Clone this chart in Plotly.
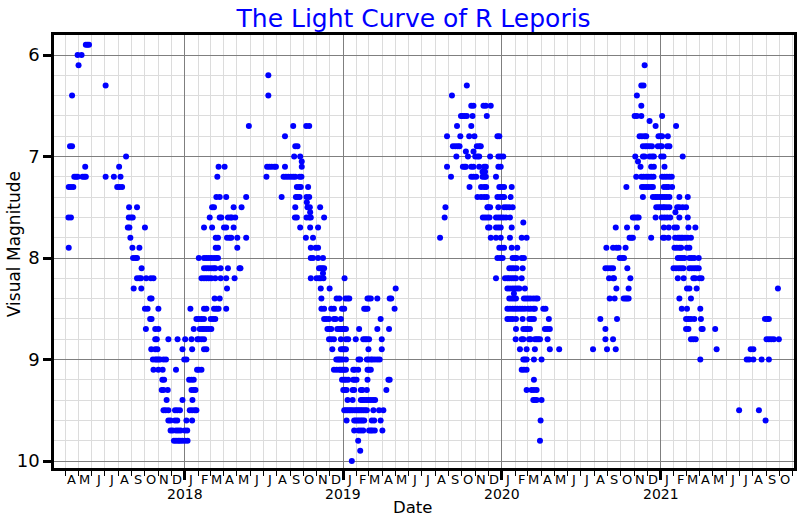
import datetime as dt
import plotly.graph_objects as go

# Observations: each row = [visual magnitude, decimal-year dates ...]
obs_2017 = [
    [5.9, 2017.375, 2017.385, 2017.395],
    [6.0, 2017.323, 2017.348],
    [6.1, 2017.329],
    [6.3, 2017.500],
    [6.4, 2017.288],
    [6.9, 2017.275, 2017.288],
    [7.0, 2017.629],
    [7.1, 2017.371, 2017.585],
    [7.2, 2017.302, 2017.313, 2017.323, 2017.354, 2017.365, 2017.375, 2017.500, 2017.552, 2017.594],
    [7.3, 2017.267, 2017.281, 2017.296, 2017.573, 2017.588, 2017.604],
    [7.5, 2017.648, 2017.698],
    [7.6, 2017.265, 2017.281, 2017.646, 2017.660, 2017.671],
    [7.7, 2017.640, 2017.650, 2017.748],
    [7.8, 2017.656],
    [7.9, 2017.267, 2017.669, 2017.713],
    [8.0, 2017.673, 2017.688, 2017.698],
    [8.1, 2017.727],
    [8.2, 2017.698, 2017.713, 2017.723, 2017.756, 2017.785, 2017.802],
    [8.3, 2017.677, 2017.725],
    [8.4, 2017.781, 2017.790],
    [8.5, 2017.748, 2017.765, 2017.833],
    [8.6, 2017.781, 2017.790],
    [8.7, 2017.754, 2017.813, 2017.833],
    [8.8, 2017.813, 2017.823, 2017.896, 2017.954, 2018.002],
    [8.9, 2017.788, 2017.813, 2017.827, 2017.985],
    [9.0, 2017.798, 2017.813, 2017.823, 2017.833, 2017.844, 2017.865, 2017.881, 2017.996, 2018.010],
    [9.1, 2017.802, 2017.833, 2017.860, 2017.944],
    [9.2, 2017.858, 2017.869],
    [9.3, 2017.854, 2017.865, 2017.892],
    [9.4, 2017.885, 2017.985],
    [9.5, 2017.865, 2017.879, 2017.896, 2017.938, 2017.952, 2017.969],
    [9.6, 2017.896, 2017.910, 2017.938, 2017.952, 2018.010],
    [9.7, 2017.910, 2017.923, 2017.944, 2017.958, 2017.973, 2018.000, 2018.015],
    [9.8, 2017.931, 2017.944, 2017.958, 2017.969, 2017.983, 2018.000, 2018.017],
]

obs_2018_rise = [
    [6.7, 2018.404],
    [7.1, 2018.213, 2018.251],
    [7.2, 2018.205],
    [7.4, 2018.199, 2018.220, 2018.261, 2018.387],
    [7.5, 2018.172, 2018.184, 2018.308, 2018.358],
    [7.6, 2018.157, 2018.220, 2018.230, 2018.272, 2018.287, 2018.297, 2018.318],
    [7.7, 2018.121, 2018.172, 2018.247, 2018.261, 2018.308],
    [7.8, 2018.195, 2018.209, 2018.266, 2018.282, 2018.293, 2018.331, 2018.387],
    [7.9, 2018.195, 2018.209, 2018.331],
    [8.0, 2018.088, 2018.121, 2018.136, 2018.151, 2018.167, 2018.184, 2018.199, 2018.209],
    [8.1, 2018.121, 2018.136, 2018.151, 2018.167, 2018.182, 2018.192, 2018.226, 2018.272, 2018.345, 2018.351],
    [8.2, 2018.105, 2018.121, 2018.136, 2018.151, 2018.167, 2018.192, 2018.226, 2018.261, 2018.314],
    [8.3, 2018.266],
    [8.4, 2018.188, 2018.220],
    [8.5, 2018.035, 2018.121, 2018.136, 2018.184, 2018.199, 2018.213, 2018.261],
    [8.6, 2018.073, 2018.088, 2018.105, 2018.121, 2018.163, 2018.178, 2018.192],
    [8.7, 2018.056, 2018.094, 2018.109, 2018.121, 2018.136, 2018.151, 2018.167],
    [8.8, 2018.042, 2018.079, 2018.088, 2018.105, 2018.121],
    [8.9, 2018.046, 2018.121, 2018.136],
    [9.1, 2018.077, 2018.088, 2018.105],
    [9.2, 2018.027, 2018.042, 2018.056],
    [9.3, 2018.042, 2018.056, 2018.067],
    [9.4, 2018.048],
    [9.5, 2018.031, 2018.046, 2018.063, 2018.073],
    [9.6, 2018.046],
]

obs_2018_fall = [
    [6.2, 2018.527],
    [6.4, 2018.527],
    [6.7, 2018.684, 2018.766, 2018.785],
    [6.8, 2018.632],
    [6.9, 2018.697, 2018.711],
    [7.0, 2018.690, 2018.728],
    [7.05, 2018.738],
    [7.1, 2018.519, 2018.533, 2018.548, 2018.565, 2018.575, 2018.632, 2018.738],
    [7.2, 2018.515, 2018.623, 2018.638, 2018.653, 2018.669, 2018.684, 2018.697, 2018.724, 2018.736],
    [7.3, 2018.707, 2018.722, 2018.732, 2018.778],
    [7.4, 2018.611, 2018.701, 2018.711, 2018.724, 2018.768, 2018.785],
    [7.45, 2018.770],
    [7.5, 2018.697, 2018.774, 2018.789, 2018.854],
    [7.55, 2018.791],
    [7.6, 2018.695, 2018.707, 2018.768, 2018.785, 2018.795, 2018.879],
    [7.7, 2018.728, 2018.791, 2018.841],
    [7.8, 2018.764, 2018.809],
    [7.9, 2018.795, 2018.826, 2018.841],
    [8.0, 2018.795, 2018.809, 2018.841, 2018.872],
    [8.1, 2018.847, 2018.858, 2018.868, 2018.879],
    [8.15, 2018.872],
    [8.2, 2018.795, 2018.831, 2018.847, 2018.858, 2018.875],
    [8.3, 2018.858, 2018.914],
    [8.4, 2018.862, 2018.958],
    [8.5, 2018.862, 2018.879, 2018.924, 2018.941],
    [8.6, 2018.879, 2018.893, 2018.910, 2018.941, 2018.952],
    [8.7, 2018.900, 2018.914, 2018.924, 2018.962],
    [8.8, 2018.910, 2018.924, 2018.941],
    [8.9, 2018.931],
    [9.0, 2018.956, 2018.967],
    [9.1, 2018.941, 2018.958],
]

obs_2019_min = [
    [8.2, 2019.008],
    [8.3, 2019.331],
    [8.4, 2018.975, 2019.013, 2019.027, 2019.038, 2019.153, 2019.163, 2019.174, 2019.215, 2019.293, 2019.303],
    [8.5, 2018.992, 2019.006, 2019.132, 2019.142, 2019.153, 2019.324],
    [8.6, 2018.985, 2019.236],
    [8.7, 2018.975, 2018.985, 2018.996, 2019.006, 2019.017, 2019.100, 2019.215, 2019.289],
    [8.8, 2018.985, 2019.017, 2019.031, 2019.079, 2019.126, 2019.138, 2019.149, 2019.163, 2019.243],
    [8.9, 2018.985, 2018.996, 2019.006, 2019.017, 2019.159, 2019.243],
    [9.0, 2018.975, 2018.985, 2018.996, 2019.017, 2019.096, 2019.107, 2019.149, 2019.159, 2019.174,
     2019.184, 2019.199, 2019.215, 2019.230],
    [9.1, 2018.975, 2018.985, 2018.996, 2019.006, 2019.017, 2019.063, 2019.073, 2019.094, 2019.153,
     2019.163, 2019.174],
    [9.2, 2018.992, 2019.006, 2019.017, 2019.031, 2019.063, 2019.073, 2019.084, 2019.153, 2019.285, 2019.293],
    [9.3, 2019.000, 2019.010, 2019.021, 2019.059, 2019.069, 2019.111, 2019.121, 2019.149, 2019.272],
    [9.4, 2019.027, 2019.059, 2019.111, 2019.121, 2019.132, 2019.146, 2019.159, 2019.174, 2019.188, 2019.201],
    [9.5, 2019.006, 2019.017, 2019.027, 2019.038, 2019.048, 2019.059, 2019.073, 2019.084, 2019.094,
     2019.105, 2019.115, 2019.126, 2019.138, 2019.149, 2019.190, 2019.226, 2019.253],
    [9.6, 2019.021, 2019.069, 2019.079, 2019.090, 2019.100, 2019.111, 2019.121, 2019.132, 2019.180,
     2019.195, 2019.236],
    [9.7, 2019.069, 2019.096, 2019.111, 2019.126, 2019.163, 2019.174, 2019.184, 2019.199, 2019.247],
    [9.8, 2019.094],
    [9.9, 2019.107],
    [10.0, 2019.054],
]

obs_2019_max = [
    [6.3, 2019.780],
    [6.4, 2019.686],
    [6.5, 2019.808, 2019.822, 2019.885, 2019.900, 2019.931],
    [6.6, 2019.743, 2019.753, 2019.766, 2019.780, 2019.816, 2019.906],
    [6.7, 2019.718, 2019.808],
    [6.8, 2019.655, 2019.739, 2019.795, 2019.828, 2019.973, 2019.985],
    [6.9, 2019.692, 2019.707, 2019.722, 2019.734, 2019.843, 2019.858, 2019.868],
    [6.95, 2019.774, 2019.822],
    [7.0, 2019.714, 2019.787, 2019.833, 2019.847, 2019.858, 2019.927, 2019.979, 2019.994, 2020.010],
    [7.1, 2019.655, 2019.755, 2019.766, 2019.774, 2019.808, 2019.822, 2019.858, 2019.889, 2019.900,
     2019.979, 2019.994],
    [7.15, 2019.879, 2019.895],
    [7.2, 2019.680, 2019.808, 2019.822, 2019.839, 2019.879, 2019.891, 2019.900, 2019.964],
    [7.3, 2019.797, 2019.870, 2019.889, 2019.902, 2019.985, 2020.000, 2020.015, 2020.063],
    [7.4, 2019.847, 2019.870, 2019.889, 2019.906, 2019.973, 2019.990, 2020.006, 2020.015, 2020.056],
    [7.5, 2019.645, 2019.910, 2019.916, 2019.927, 2019.979, 2020.015, 2020.031, 2020.048, 2020.069],
    [7.6, 2019.640, 2019.881, 2019.895, 2019.910, 2019.923, 2019.964, 2019.979, 2019.994, 2020.010,
     2020.027, 2020.052],
    [7.65, 2020.136],
    [7.7, 2019.914, 2019.923, 2019.964, 2019.979, 2019.994, 2020.063],
    [7.8, 2019.611, 2019.931, 2019.964, 2019.994, 2020.052, 2020.126, 2020.157],
]

obs_2020_fall = [
    [7.9, 2019.985, 2020.000, 2020.015, 2020.063, 2020.098],
    [8.0, 2019.973, 2019.990, 2020.006, 2020.069, 2020.084, 2020.094, 2020.126, 2020.140],
    [8.1, 2020.048, 2020.063, 2020.077, 2020.094, 2020.132],
    [8.2, 2019.964, 2020.021, 2020.036, 2020.048, 2020.063, 2020.077, 2020.090, 2020.126],
    [8.3, 2020.036, 2020.052, 2020.069, 2020.084, 2020.098, 2020.111, 2020.146],
    [8.35, 2020.077],
    [8.4, 2020.048, 2020.063, 2020.077, 2020.090, 2020.140, 2020.153, 2020.167, 2020.182, 2020.199,
     2020.215, 2020.226],
    [8.5, 2020.036, 2020.052, 2020.069, 2020.084, 2020.098, 2020.115, 2020.130, 2020.146, 2020.167,
     2020.182, 2020.199, 2020.209, 2020.262, 2020.276],
    [8.6, 2020.036, 2020.052, 2020.069, 2020.090, 2020.132, 2020.174, 2020.188, 2020.203, 2020.297],
    [8.7, 2020.090, 2020.136, 2020.151, 2020.163, 2020.178, 2020.272, 2020.287, 2020.303],
    [8.8, 2020.088, 2020.126, 2020.136, 2020.172, 2020.182, 2020.209, 2020.220, 2020.230, 2020.241, 2020.289],
    [8.9, 2020.115, 2020.157, 2020.209, 2020.303, 2020.362],
    [9.0, 2020.136, 2020.146, 2020.157, 2020.203, 2020.251],
    [9.1, 2020.126, 2020.140, 2020.157],
    [9.2, 2020.203],
    [9.3, 2020.157, 2020.188, 2020.203, 2020.220],
    [9.4, 2020.199, 2020.209, 2020.220, 2020.251],
    [9.6, 2020.245],
    [9.8, 2020.241],
]

obs_2020_rise = [
    [6.1, 2020.900],
    [6.3, 2020.879, 2020.893],
    [6.4, 2020.851],
    [6.5, 2020.879],
    [6.6, 2020.837, 2020.851, 2020.879],
    [6.65, 2020.931],
    [6.7, 2020.969],
    [6.8, 2020.868, 2020.883, 2020.900, 2020.910, 2020.987],
    [6.9, 2020.889, 2020.904, 2020.916, 2020.931, 2020.946, 2020.983, 2020.998],
    [7.0, 2020.841, 2020.889, 2020.900, 2020.931, 2020.946, 2020.958],
    [7.05, 2020.858],
    [7.1, 2020.874, 2020.941, 2020.958],
    [7.2, 2020.847, 2020.879, 2020.893, 2020.910, 2020.925, 2020.941, 2020.956],
    [7.3, 2020.785, 2020.883, 2020.895, 2020.910, 2020.925, 2020.941, 2020.952],
    [7.4, 2020.889, 2020.952, 2020.967, 2020.979, 2020.994],
    [7.5, 2020.973, 2020.987],
    [7.6, 2020.826, 2020.837, 2020.851, 2020.862, 2020.969],
    [7.7, 2020.718, 2020.789, 2020.851],
    [7.8, 2020.805, 2020.816, 2020.826, 2020.941],
    [7.9, 2020.659, 2020.701, 2020.722, 2020.736, 2020.780],
    [8.0, 2020.743, 2020.759, 2020.770],
    [8.1, 2020.653, 2020.669, 2020.686, 2020.701, 2020.791],
    [8.2, 2020.676, 2020.701, 2020.707, 2020.810],
    [8.3, 2020.722, 2020.799],
    [8.4, 2020.680, 2020.711, 2020.768, 2020.780, 2020.789, 2020.799],
    [8.6, 2020.621, 2020.726],
    [8.7, 2020.653],
    [8.8, 2020.653, 2020.701],
    [8.9, 2020.575, 2020.663, 2020.718],
]

obs_2021 = [
    [6.6, 2021.010],
    [6.7, 2021.098],
    [6.8, 2021.000, 2021.010, 2021.046],
    [6.9, 2021.008, 2021.042, 2021.056],
    [7.0, 2021.004, 2021.019, 2021.140],
    [7.1, 2021.025],
    [7.2, 2021.010, 2021.025, 2021.040, 2021.056, 2021.071],
    [7.3, 2021.021, 2021.036, 2021.050, 2021.073],
    [7.4, 2021.010, 2021.025, 2021.040, 2021.056, 2021.119, 2021.172],
    [7.5, 2021.000, 2021.015, 2021.025, 2021.040, 2021.056, 2021.105, 2021.119, 2021.140, 2021.161],
    [7.55, 2021.094],
    [7.6, 2021.008, 2021.025, 2021.042, 2021.061, 2021.119, 2021.172],
    [7.7, 2021.021, 2021.052, 2021.088, 2021.103, 2021.176, 2021.220],
    [7.8, 2021.015, 2021.025, 2021.050, 2021.092, 2021.109, 2021.119, 2021.130, 2021.140, 2021.155,
     2021.172, 2021.192],
    [7.9, 2021.088, 2021.103, 2021.119, 2021.130, 2021.167, 2021.182],
    [8.0, 2021.109, 2021.123, 2021.136, 2021.151, 2021.182, 2021.197, 2021.213, 2021.241],
    [8.1, 2021.082, 2021.098, 2021.115, 2021.130, 2021.144, 2021.182, 2021.197, 2021.213, 2021.228, 2021.241],
    [8.2, 2021.109, 2021.146, 2021.207, 2021.218, 2021.245, 2021.259],
    [8.3, 2021.167, 2021.182, 2021.228, 2021.741],
    [8.4, 2021.119, 2021.192],
    [8.5, 2021.134, 2021.167, 2021.251],
    [8.6, 2021.161, 2021.176, 2021.192, 2021.213, 2021.255, 2021.659, 2021.674, 2021.684],
    [8.7, 2021.161, 2021.176, 2021.259, 2021.266, 2021.345],
    [8.8, 2021.192, 2021.207, 2021.222, 2021.669, 2021.684, 2021.699, 2021.715, 2021.747],
    [8.9, 2021.354, 2021.569, 2021.586],
    [9.0, 2021.251, 2021.544, 2021.559, 2021.586, 2021.638, 2021.684],
    [9.5, 2021.496, 2021.621],
    [9.6, 2021.663],
]

month_letters = ["J", "F", "M", "A", "M", "J", "J", "A", "S", "O", "N", "D"]
year_labels = [2018, 2019, 2020, 2021]
x_start, x_end = 2017.174, 2021.8425
y_top, y_bottom = 5.803, 10.069


def to_date(y):
    yr = int(y)
    start = dt.datetime(yr, 1, 1)
    end = dt.datetime(yr + 1, 1, 1)
    return start + (end - start) * (y - yr)


dates, mags = [], []
for block in [obs_2017, obs_2018_rise, obs_2018_fall, obs_2019_min, obs_2019_max,
              obs_2020_fall, obs_2020_rise, obs_2021]:
    for row in block:
        for t in row[1:]:
            dates.append(to_date(t))
            mags.append(row[0])

FONT = "DejaVu Sans"
fig = go.Figure()
fig.add_trace(go.Scatter(x=dates, y=mags, mode="markers",
                         marker=dict(color="#0000ff", size=6, line=dict(width=0)),
                         hoverinfo="skip", showlegend=False))

annotations = []
# month letters at mid-month
y, m = 2017, 4
while (y, m) <= (2021, 10):
    annotations.append(dict(x=dt.datetime(y, m, 15), y=0, xref="x", yref="paper",
                            text=month_letters[m - 1], showarrow=False, yanchor="top",
                            yshift=-2, font=dict(family=FONT, size=13, color="black")))
    m += 1
    if m > 12:
        m, y = 1, y + 1
for yr in year_labels:
    annotations.append(dict(x=dt.datetime(yr, 1, 1), y=0, xref="x", yref="paper",
                            text=str(yr), showarrow=False, yanchor="top", yshift=-16,
                            font=dict(family=FONT, size=14, color="black")))
annotations.append(dict(x=0.4845, y=-0.092, xref="paper", yref="paper", text="Date",
                        showarrow=False, yanchor="middle",
                        font=dict(family=FONT, size=16.5, color="black")))
annotations.append(dict(x=-0.054, y=0.517, xref="paper", yref="paper", text="Visual Magnitude",
                        showarrow=False, textangle=-90, xanchor="center", yanchor="middle",
                        font=dict(family=FONT, size=17, color="black")))

fig.update_layout(
    width=800, height=520,
    margin=dict(l=54, r=3, t=35, b=52),
    paper_bgcolor="white", plot_bgcolor="white",
    title=dict(text="The Light Curve of R Leporis", x=0.517, y=0.965, xanchor="center",
               yanchor="middle", font=dict(family=FONT, size=25, color="#0000ff")),
    annotations=annotations,
    font=dict(family=FONT, color="black"),
)
fig.update_xaxes(
    type="date", range=[to_date(x_start), to_date(x_end)],
    showline=True, linecolor="black", linewidth=2.5, mirror=True,
    ticks="outside", ticklen=9, tickwidth=2.5, tickcolor="black",
    tick0="2018-01-01", dtick="M12", showticklabels=False,
    showgrid=True, gridcolor="#7f7f7f", gridwidth=1, zeroline=False,
    minor=dict(dtick="M1", tick0="2017-01-01", ticks="outside", ticklen=5, tickwidth=1.2,
               tickcolor="black", showgrid=True, gridcolor="#dcdcdc", gridwidth=1),
)
fig.update_yaxes(
    range=[y_bottom, y_top],
    showline=True, linecolor="black", linewidth=2.5, mirror=True,
    ticks="outside", ticklen=8, tickwidth=2.5, tickcolor="black",
    tick0=6, dtick=1, tickfont=dict(family=FONT, size=18, color="black"),
    showgrid=True, gridcolor="#7f7f7f", gridwidth=1, zeroline=False,
    minor=dict(dtick=0.2, tick0=6, showgrid=True, gridcolor="#dcdcdc", gridwidth=1, ticks=""),
)

fig.write_html("out.html", config={"displayModeBar": False},
               post_script="document.body.style.margin='0px';document.body.style.overflow='hidden';")
